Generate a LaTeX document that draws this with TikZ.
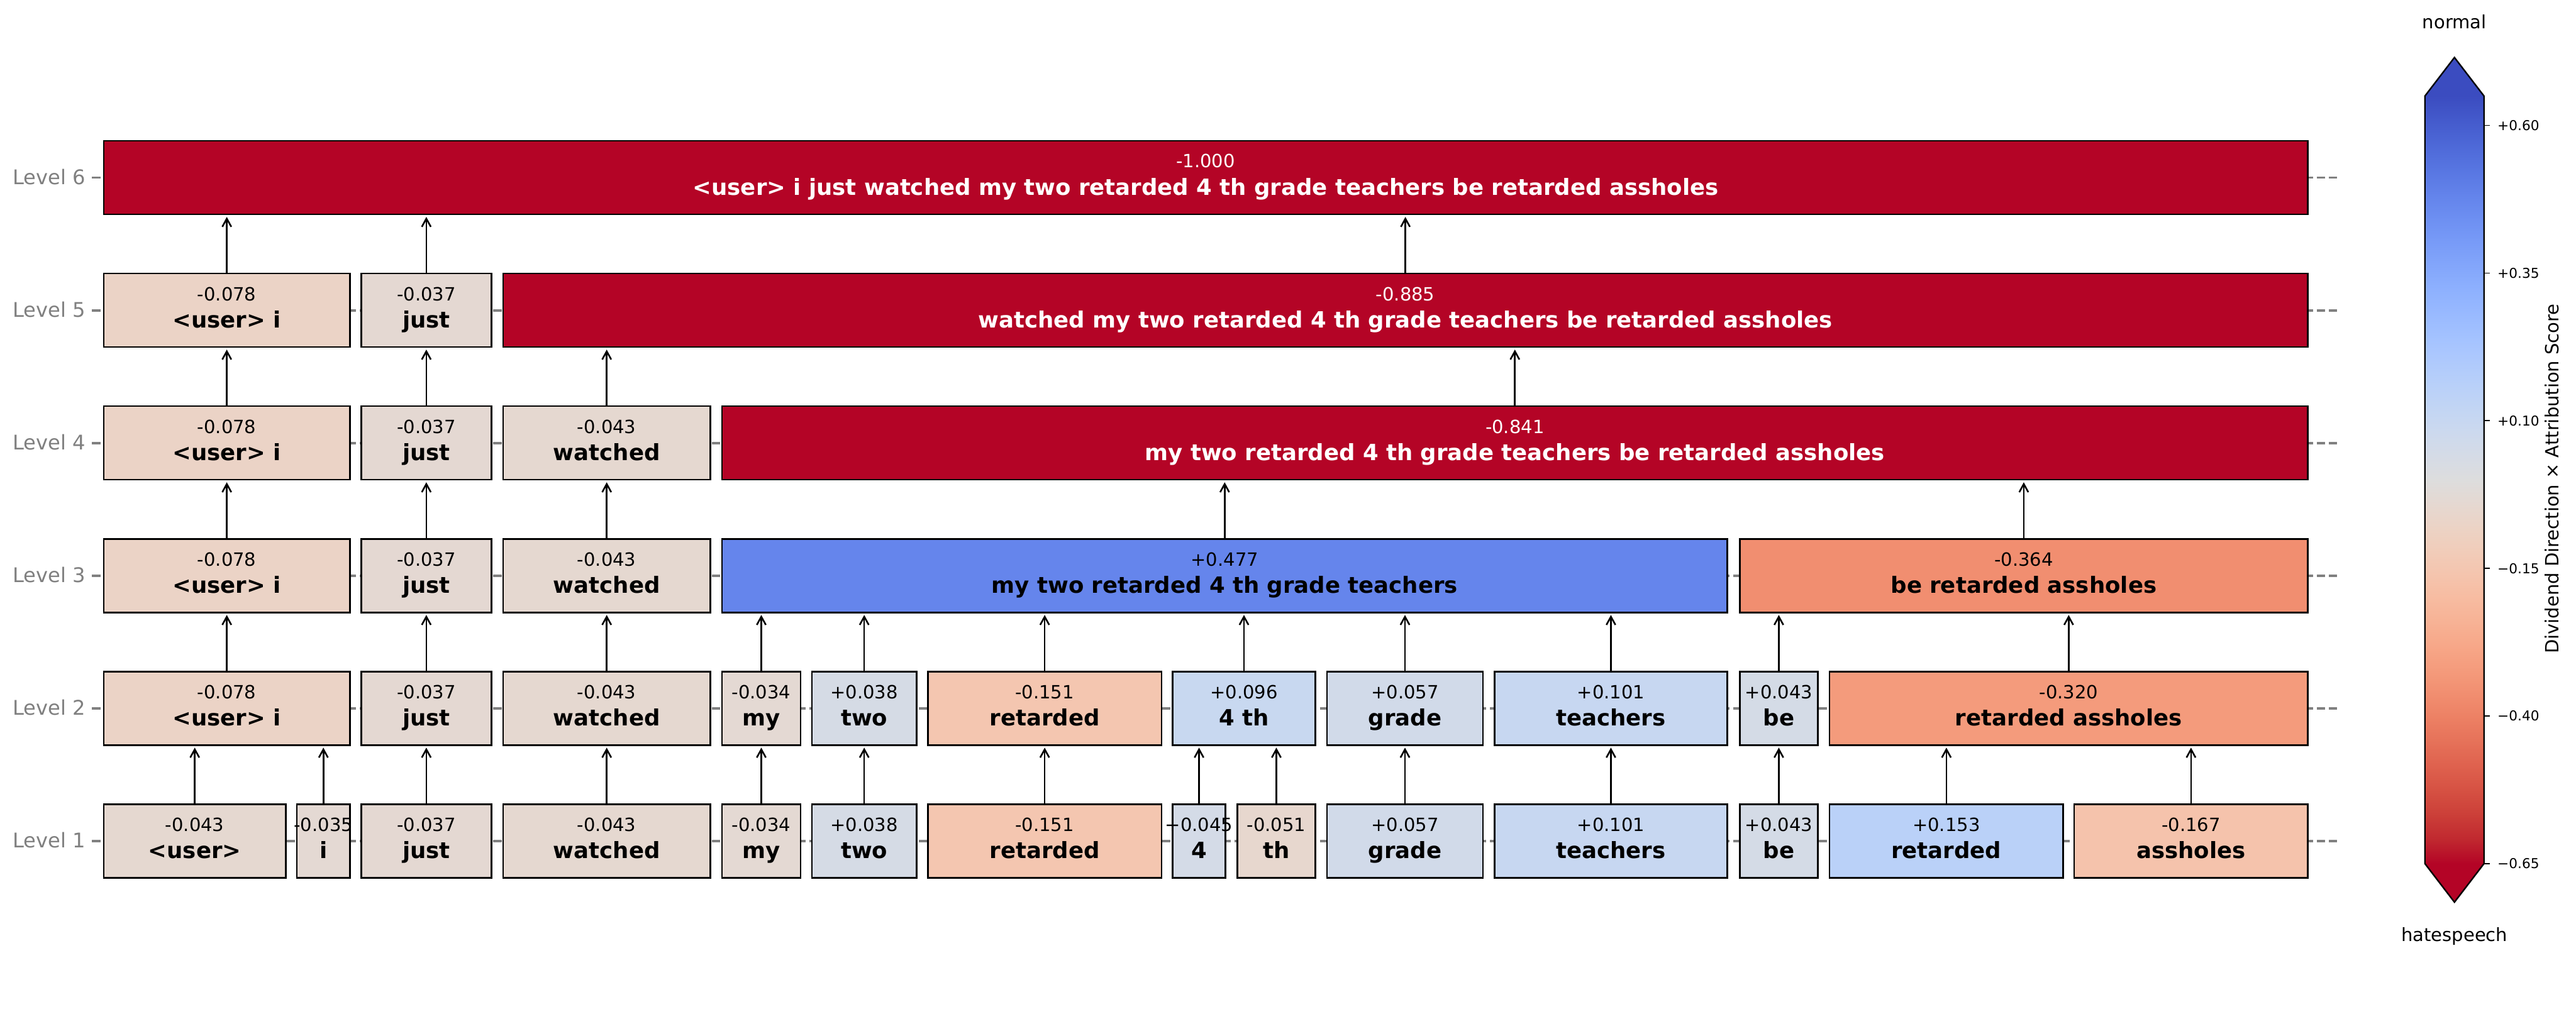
\documentclass[tikz,border=0pt]{standalone}
\usepackage{fontspec}
\setmainfont{DejaVu Sans}
\usetikzlibrary{arrows.meta}
% value colours (coolwarm_r, vmin=-0.65, vmax=0.65)
\definecolor{m043}{RGB}{229,216,208}
\definecolor{m035}{RGB}{228,217,211}
\definecolor{m037}{RGB}{228,216,210}
\definecolor{m034}{RGB}{228,217,211}
\definecolor{p038}{RGB}{213,219,229}
\definecolor{m151}{RGB}{244,198,176}
\definecolor{p045}{RGB}{212,219,231}
\definecolor{m051}{RGB}{231,215,206}
\definecolor{p057}{RGB}{209,218,233}
\definecolor{p101}{RGB}{199,215,241}
\definecolor{p043}{RGB}{212,219,230}
\definecolor{p153}{RGB}{186,209,248}
\definecolor{m167}{RGB}{245,195,172}
\definecolor{m078}{RGB}{235,211,198}
\definecolor{p096}{RGB}{200,216,240}
\definecolor{m320}{RGB}{244,155,124}
\definecolor{p477}{RGB}{101,133,236}
\definecolor{m364}{RGB}{241,142,112}
\definecolor{mmax}{RGB}{180,4,38}
\definecolor{lvgray}{RGB}{128,128,128}
% colormap stops
\definecolor{cw0}{RGB}{59,76,192}
\definecolor{cw1}{RGB}{68,90,204}
\definecolor{cw2}{RGB}{77,104,215}
\definecolor{cw3}{RGB}{87,117,225}
\definecolor{cw4}{RGB}{98,130,234}
\definecolor{cw5}{RGB}{108,142,241}
\definecolor{cw6}{RGB}{119,154,247}
\definecolor{cw7}{RGB}{130,165,251}
\definecolor{cw8}{RGB}{141,176,254}
\definecolor{cw9}{RGB}{152,185,255}
\definecolor{cw10}{RGB}{163,194,255}
\definecolor{cw11}{RGB}{174,201,253}
\definecolor{cw12}{RGB}{184,208,249}
\definecolor{cw13}{RGB}{194,213,244}
\definecolor{cw14}{RGB}{204,217,238}
\definecolor{cw15}{RGB}{213,219,230}
\definecolor{cw16}{RGB}{221,221,221}
\definecolor{cw17}{RGB}{229,216,209}
\definecolor{cw18}{RGB}{236,211,197}
\definecolor{cw19}{RGB}{241,204,185}
\definecolor{cw20}{RGB}{245,196,173}
\definecolor{cw21}{RGB}{247,187,160}
\definecolor{cw22}{RGB}{247,177,148}
\definecolor{cw23}{RGB}{247,166,135}
\definecolor{cw24}{RGB}{244,154,123}
\definecolor{cw25}{RGB}{241,141,111}
\definecolor{cw26}{RGB}{236,127,99}
\definecolor{cw27}{RGB}{229,112,88}
\definecolor{cw28}{RGB}{222,96,77}
\definecolor{cw29}{RGB}{213,80,66}
\definecolor{cw30}{RGB}{203,62,56}
\definecolor{cw31}{RGB}{192,40,47}
\definecolor{cw32}{RGB}{180,4,38}

\newcommand\tokbox[8]{%
  \node[tokbox, fill=#5, minimum width={#3pt-#2pt}] (#1) at ({(#2+#3)/2},#4) {};
  \node[numlab, text=#8] (#1v) at ({(#2+#3)/2},{#4-6}) {#6};
  \node[wordlab, text=#8] (#1w) at ({(#2+#3)/2},{#4+10.5}) {#7};
}

\tikzset{
  tokbox/.style={draw=black, line width=0.9pt, rectangle, inner sep=0pt, outer sep=0pt, minimum height=44.8pt},
  numlab/.style={anchor=base, inner sep=0pt, font=\fontsize{11.1}{13}\selectfont},
  wordlab/.style={anchor=base, inner sep=0pt, font=\fontsize{13.6}{16}\selectfont\bfseries},
  levlab/.style={anchor=base east, inner sep=0pt, text=lvgray, font=\fontsize{12.3}{15}\selectfont},
  arr/.style={-{Straight Barb[length=5pt,width=5.5pt]}, line width=1pt, shorten >=1.5pt},
  levline/.style={draw=lvgray, line width=1.4pt, dash pattern=on 5.1pt off 2.3pt},
  ticklab/.style={anchor=west, inner sep=0pt, font=\fontsize{8.3}{10}\selectfont},
  cbtext/.style={inner sep=0pt, font=\fontsize{11.1}{13}\selectfont},
}

\begin{document}
\begin{tikzpicture}[x=1pt, y=-1pt]
\fill[white] (0,0) rectangle (1568,623.6);
\useasboundingbox (0,0) rectangle (1568,623.6);

% level guide lines and labels
\foreach \y/\n in {108.2/6, 189.0/5, 269.8/4, 350.6/3, 431.4/2, 512.2/1} {
  \draw[levline] (56,\y) -- (1423.4,\y);
  \node[levlab] (lev\n) at (52.3,{\y+4.2}) {Level \n};
}

% Level 1
\tokbox{a1}{63.1}{174.0}{512.2}{m043}{-0.043}{<user>}{black}
\tokbox{a2}{180.7}{213.0}{512.2}{m035}{-0.035}{i}{black}
\tokbox{a3}{219.9}{299.1}{512.2}{m037}{-0.037}{just}{black}
\tokbox{a4}{306.2}{432.4}{512.2}{m043}{-0.043}{watched}{black}
\tokbox{a5}{439.5}{487.3}{512.2}{m034}{-0.034}{my}{black}
\tokbox{a6}{494.2}{557.9}{512.2}{p038}{+0.038}{two}{black}
\tokbox{a7}{564.8}{707.0}{512.2}{m151}{-0.151}{retarded}{black}
\tokbox{a8}{713.8}{745.9}{512.2}{p045}{+0.045}{4}{black}
\tokbox{a9}{753.2}{800.6}{512.2}{m051}{-0.051}{th}{black}
\tokbox{a10}{807.8}{902.6}{512.2}{p057}{+0.057}{grade}{black}
\tokbox{a11}{909.7}{1051.4}{512.2}{p101}{+0.101}{teachers}{black}
\tokbox{a12}{1059.0}{1106.5}{512.2}{p043}{+0.043}{be}{black}
\tokbox{a13}{1113.7}{1255.8}{512.2}{p153}{+0.153}{retarded}{black}
\tokbox{a14}{1262.6}{1404.7}{512.2}{m167}{-0.167}{assholes}{black}

% Level 2
\tokbox{b1}{63.1}{213.0}{431.4}{m078}{-0.078}{<user> i}{black}
\tokbox{b2}{219.9}{299.1}{431.4}{m037}{-0.037}{just}{black}
\tokbox{b3}{306.2}{432.4}{431.4}{m043}{-0.043}{watched}{black}
\tokbox{b4}{439.5}{487.3}{431.4}{m034}{-0.034}{my}{black}
\tokbox{b5}{494.2}{557.9}{431.4}{p038}{+0.038}{two}{black}
\tokbox{b6}{564.8}{707.0}{431.4}{m151}{-0.151}{retarded}{black}
\tokbox{b7}{713.8}{800.6}{431.4}{p096}{+0.096}{4 th}{black}
\tokbox{b8}{807.8}{902.6}{431.4}{p057}{+0.057}{grade}{black}
\tokbox{b9}{909.7}{1051.4}{431.4}{p101}{+0.101}{teachers}{black}
\tokbox{b10}{1059.0}{1106.5}{431.4}{p043}{+0.043}{be}{black}
\tokbox{b11}{1113.7}{1404.7}{431.4}{m320}{-0.320}{retarded assholes}{black}

% Level 3
\tokbox{c1}{63.1}{213.0}{350.6}{m078}{-0.078}{<user> i}{black}
\tokbox{c2}{219.9}{299.1}{350.6}{m037}{-0.037}{just}{black}
\tokbox{c3}{306.2}{432.4}{350.6}{m043}{-0.043}{watched}{black}
\tokbox{c4}{439.5}{1051.4}{350.6}{p477}{+0.477}{my two retarded 4 th grade teachers}{black}
\tokbox{c5}{1059.0}{1404.7}{350.6}{m364}{-0.364}{be retarded assholes}{black}

% Level 4
\tokbox{d1}{63.1}{213.0}{269.8}{m078}{-0.078}{<user> i}{black}
\tokbox{d2}{219.9}{299.1}{269.8}{m037}{-0.037}{just}{black}
\tokbox{d3}{306.2}{432.4}{269.8}{m043}{-0.043}{watched}{black}
\tokbox{d4}{439.5}{1404.7}{269.8}{mmax}{-0.841}{my two retarded 4 th grade teachers be retarded assholes}{white}

% Level 5
\tokbox{e1}{63.1}{213.0}{189.0}{m078}{-0.078}{<user> i}{black}
\tokbox{e2}{219.9}{299.1}{189.0}{m037}{-0.037}{just}{black}
\tokbox{e3}{306.2}{1404.7}{189.0}{mmax}{-0.885}{watched my two retarded 4 th grade teachers be retarded assholes}{white}

% Level 6
\tokbox{f1}{63.1}{1404.7}{108.2}{mmax}{-1.000}{<user> i just watched my two retarded 4 th grade teachers be retarded assholes}{white}

% arrows
\foreach \c/\p in {a1/b1,a2/b1,a3/b2,a4/b3,a5/b4,a6/b5,a7/b6,a8/b7,a9/b7,a10/b8,a11/b9,a12/b10,a13/b11,a14/b11,
  b1/c1,b2/c2,b3/c3,b4/c4,b5/c4,b6/c4,b7/c4,b8/c4,b9/c4,b10/c5,b11/c5,
  c1/d1,c2/d2,c3/d3,c4/d4,c5/d4,
  d1/e1,d2/e2,d3/e3,d4/e3,
  e1/f1,e2/f1,e3/f1}
  \draw[arr] (\c.north) -- (\c.north |- \p.south);

% colorbar
\fill[cw0] (1476,58.5) -- (1494,35) -- (1512,58.5) -- cycle;
\fill[cw32] (1476,525.9) -- (1494,549.4) -- (1512,525.9) -- cycle;
\foreach \k in {0,...,31} {
  \pgfmathtruncatemacro\kn{\k+1}
  \shade[top color=cw\k, bottom color=cw\kn] (1476,{58.5+\k*14.606}) rectangle (1512,{58.5+(\k+1)*14.606+0.3});
}
\draw[black, line width=0.9pt] (1476,58.5) -- (1494,35) -- (1512,58.5) -- (1512,525.9) -- (1494,549.4) -- (1476,525.9) -- cycle;

\foreach \y/\t [count=\i] in {76.4/+0.60, 166.3/+0.35, 256.2/+0.10, 346.1/−0.15, 436.0/−0.40, 525.9/−0.65} {
  \draw[black, line width=0.7pt] (1512,\y) -- (1515.7,\y);
  \node[ticklab] (tick\i) at (1520,\y) {\t};
}
\node[cbtext, anchor=base] (cbtop) at (1494,17.5) {normal};
\node[cbtext, anchor=base] (cbbot) at (1494,573.4) {hatespeech};
\node[cbtext, rotate=90] (cblabel) at (1553.5,291.5) {Dividend Direction × Attribution Score};
\end{tikzpicture}
\end{document}
